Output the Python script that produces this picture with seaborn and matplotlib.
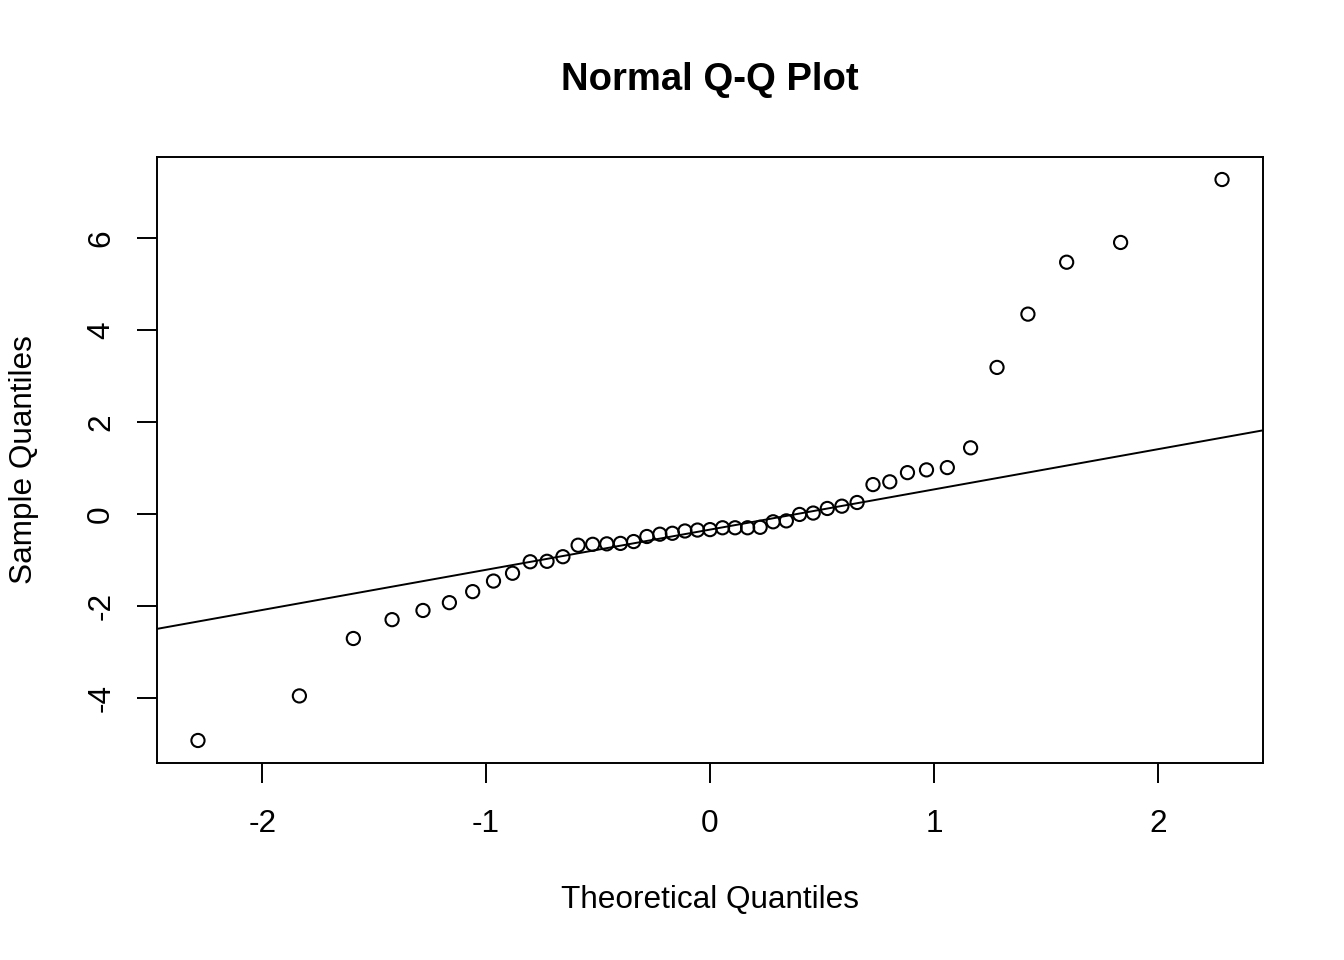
import numpy as np
import pandas as pd
import matplotlib
matplotlib.use("Agg")
import matplotlib.pyplot as plt
import seaborn as sns

# Theoretical quantiles (x) and sample quantiles (y)
theoretical = [-2.287, -1.834, -1.593, -1.420, -1.282, -1.164, -1.060, -0.967,
               -0.882, -0.803, -0.728, -0.657, -0.589, -0.524, -0.461, -0.400,
               -0.341, -0.282, -0.224, -0.168, -0.112, -0.056, 0.000,
               0.056, 0.112, 0.168, 0.224, 0.282, 0.341, 0.400, 0.461,
               0.524, 0.589, 0.657, 0.728, 0.803, 0.882, 0.967, 1.060,
               1.164, 1.282, 1.420, 1.593, 1.834, 2.287]
sample = [-4.93, -3.96, -2.71, -2.30, -2.10, -1.93, -1.69, -1.46,
          -1.29, -1.04, -1.03, -0.93, -0.68, -0.66, -0.65, -0.64,
          -0.60, -0.49, -0.44, -0.42, -0.37, -0.35, -0.34,
          -0.30, -0.30, -0.30, -0.29, -0.17, -0.15, -0.01, 0.02,
          0.12, 0.17, 0.25, 0.64, 0.70, 0.90, 0.96, 1.01,
          1.44, 3.19, 4.35, 5.48, 5.91, 7.28]
x_ticks = [-2, -1, 0, 1, 2]
y_ticks = [-4, -2, 0, 2, 4, 6]

df = pd.DataFrame({"Theoretical Quantiles": theoretical, "Sample Quantiles": sample})

sns.set_theme(style="white")
plt.rcParams["font.family"] = ["Liberation Sans", "DejaVu Sans"]

fig = plt.figure(figsize=(13.44, 9.6), dpi=100)
ax = fig.add_axes([157 / 1344, 1 - 763 / 960, 1106 / 1344, 606 / 960])

sns.scatterplot(data=df, x="Theoretical Quantiles", y="Sample Quantiles", ax=ax,
                marker="o", s=90, facecolor="none", edgecolor="black", linewidth=1.5)

# qqline through the first and third quartiles
q1, q3 = np.quantile(sample, [0.25, 0.75])
t1, t3 = -0.6744898, 0.6744898
slope = (q3 - q1) / (t3 - t1)
intercept = q1 - slope * t1
ax.axline((0, intercept), slope=slope, color="black", linewidth=1.4)

ax.set_xlim(-2.47, 2.47)
ax.set_ylim(-5.42, 7.77)
ax.set_xticks(x_ticks)
ax.set_xticklabels([str(v) for v in x_ticks])
ax.set_yticks(y_ticks)
ax.set_yticklabels([str(v) for v in y_ticks], rotation=90, va="center")

for sp in ax.spines.values():
    sp.set_visible(True)
    sp.set_color("black")
    sp.set_linewidth(1.4)

ax.tick_params(axis="both", which="major", direction="out", length=14.4, width=1.4,
               color="black", labelsize=22.7, labelcolor="black",
               bottom=True, left=True)
ax.tick_params(axis="x", pad=19)
ax.tick_params(axis="y", pad=15)

ax.set_xlabel("Theoretical Quantiles", fontsize=22.7, color="black")
ax.xaxis.set_label_coords(0.5, (763 - 900) / 606)
ax.xaxis.label.set_va("center")
ax.set_ylabel("Sample Quantiles", fontsize=22.7, color="black")
ax.yaxis.set_label_coords((24 - 157) / 1106, 0.5)
ax.yaxis.label.set_va("center")
ax.yaxis.label.set_ha("center")

ax.set_title("Normal Q-Q Plot", fontsize=27.5, fontweight="bold", color="black",
             y=1 + 77 / 606, va="center", pad=0)

ax.grid(False)
fig.savefig("out.png", dpi=100, facecolor="white")
